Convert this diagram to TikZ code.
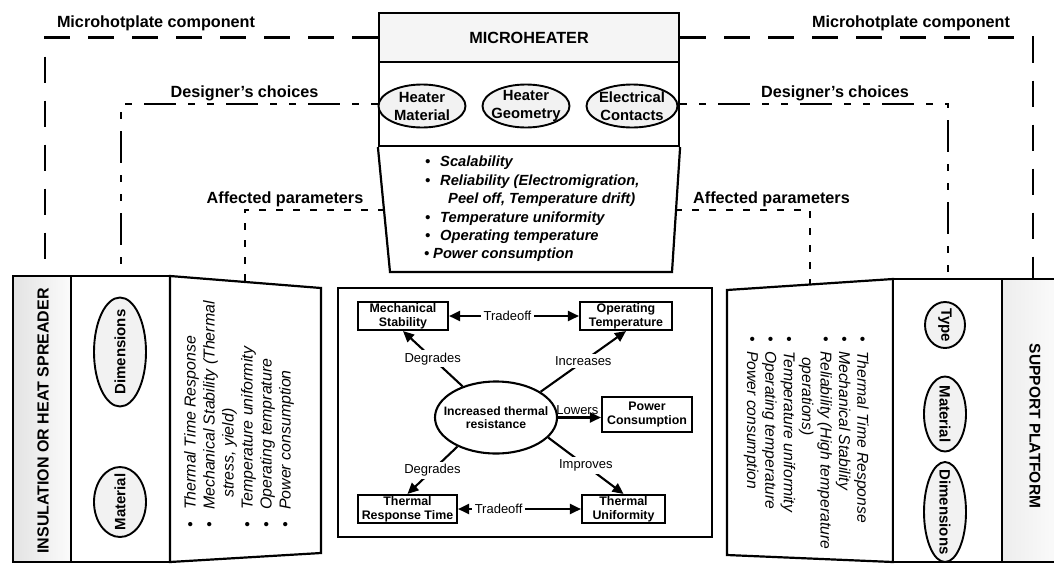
\documentclass[tikz,border=0pt]{standalone}
\usepackage{fontspec}
\setmainfont{Liberation Sans}
\usetikzlibrary{arrows.meta,shapes.geometric,calc}
\newcommand{\bu}[1]{\makebox[#1][l]{\textbullet}}
\begin{document}
\begin{tikzpicture}[x=1pt,y=-1pt,
  every node/.style={inner sep=0pt},
  frame/.style={draw, line width=2.2pt},
  oval/.style={ellipse, draw, line width=1.9pt, fill=gray!10, inner sep=0pt},
  otext/.style={align=center, font=\fontsize{14.8}{18}\selectfont\bfseries},
  ptext/.style={font=\fontsize{15}{18}\selectfont\bfseries},
  mhdash/.style={line width=2.2pt, dash pattern=on 26pt off 18pt},
  dcdash/.style={line width=2.2pt, dash pattern=on 7pt off 12pt on 7pt off 12pt on 32pt off 12pt},
  apdash/.style={line width=2.2pt, dash pattern=on 7pt off 10pt},
  lbl/.style={font=\fontsize{16.2}{18}\selectfont\bfseries},
  cbox/.style={draw, line width=2.1pt, align=center, font=\fontsize{12.4}{14}\selectfont\bfseries},
  arr/.style={line width=2.1pt, -{Triangle[length=11pt,width=10pt]}},
  darr/.style={line width=2.1pt, {Triangle[length=11pt,width=10pt]}-{Triangle[length=11pt,width=10pt]}},
  alab/.style={font=\fontsize{13}{14}\selectfont, fill=white, inner sep=2.5pt},
]
\useasboundingbox (0,0) rectangle (1054,563);

% ---------- top: microheater ----------
\node[frame, fill=gray!8, minimum width=300pt, minimum height=49pt, font=\fontsize{16.2}{18}\selectfont\bfseries] (mhhead) at (529,37.5) {MICROHEATER};
\node[frame, fill=white, minimum width=300pt, minimum height=84pt] (mhmid) at (529,104) {};
\coordinate (tzbl) at (390,272);
\coordinate (tzbr) at (672,272);
\draw[frame, fill=white] (mhmid.south west) -- (tzbl) -- (tzbr) -- (mhmid.south east);
\node[oval, minimum width=87pt, minimum height=43pt] (hm) at (422,106) {};
\node[otext] (hmT) at (hm) {Heater\\Material};
\node[oval, minimum width=87pt, minimum height=43pt] (hg) at (526,106) {};
\node[otext] (hgT) at (hg) {Heater\\Geometry};
\node[oval, minimum width=91pt, minimum height=43pt] (ec) at (632,106) {};
\node[otext] (ecT) at (ec) {Electrical\\Contacts};
\node[anchor=north west, align=left, font=\fontsize{14.7}{18.4}\selectfont\bfseries\itshape] (mhlist) at (425,156) {%
\bu{15pt}Scalability\\
\bu{15pt}Reliability (Electromigration,\\
\hspace*{23pt}Peel off, Temperature drift)\\
\bu{15pt}Temperature uniformity\\
\bu{15pt}Operating temperature\\
\hspace*{-1pt}\bu{9pt}Power consumption};

% ---------- left panels ----------
\node[frame, left color=gray!22, right color=gray!3, minimum width=58pt, minimum height=286pt] (ins) at (42,419) {};
\node[rotate=90, font=\fontsize{16}{18}\selectfont\bfseries] (insT) at (43,421) {INSULATION OR HEAT SPREADER};
\node[frame, fill=white, minimum width=99pt, minimum height=286pt] (insC) at (120.5,419) {};
\node[oval, minimum width=52pt, minimum height=109pt] (dimL) at (120,352) {};
\node[ptext, rotate=90] (dimLT) at (dimL) {Dimensions};
\node[oval, minimum width=52pt, minimum height=70pt] (matL) at (120,502) {};
\node[ptext, rotate=90] (matLT) at (matL) {Material};
\coordinate (ltTL) at (170,276);
\coordinate (ltTR) at (321,288);
\coordinate (ltBR) at (321,553);
\coordinate (ltBL) at (170,562);
\draw[frame, fill=white] (ltTL) -- (ltTR) -- (ltBR) -- (ltBL) -- cycle;
\node[rotate=90, anchor=north west, align=left, font=\fontsize{15.9}{19}\selectfont\itshape] (ltlist) at (184,528) {%
\bu{18pt}Thermal Time Response\\
\bu{18pt}Mechanical Stability (Thermal\\
\hspace*{30pt}stress, yield)\\
\bu{18pt}Temperature uniformity\\
\bu{18pt}Operating temprature\\
\bu{18pt}Power consumption};

% ---------- right panels ----------
\coordinate (rtTL) at (727,290);
\coordinate (rtTR) at (893,279);
\coordinate (rtBR) at (893,562);
\coordinate (rtBL) at (727,555);
\draw[frame, fill=white] (rtTL) -- (rtTR) -- (rtBR) -- (rtBL) -- cycle;
\node[rotate=-90, anchor=north west, align=left, font=\fontsize{15.7}{18.4}\selectfont\itshape] (rtlist) at (869,336) {%
\bu{15pt}Thermal Time Response\\
\bu{15pt}Mechanical Stability\\
\bu{15pt}Reliability (High temperature\\
\hspace*{21pt}operations)\\
\bu{15pt}Temperature uniformity\\
\bu{15pt}Operating temperature\\
\bu{15pt}Power consumption};
\node[frame, fill=white, minimum width=109pt, minimum height=283pt] (spC) at (947.5,420.5) {};
\node[oval, minimum width=40pt, minimum height=46pt] (typR) at (945,325) {};
\node[ptext, rotate=-90] (typRT) at (typR) {Type};
\node[oval, minimum width=42pt, minimum height=75pt] (matR) at (945,414) {};
\node[ptext, rotate=-90] (matRT) at (matR) {Material};
\node[oval, minimum width=42pt, minimum height=100pt] (dimR) at (945,512) {};
\node[ptext, rotate=-90] (dimRT) at (dimR) {Dimensions};
\node[frame, left color=gray!14, right color=gray!3, minimum width=58pt, minimum height=283pt] (sp) at (1031,420.5) {};
\node[rotate=-90, font=\fontsize{15.5}{18}\selectfont\bfseries] (spT) at (1035,426) {SUPPORT PLATFORM};

% ---------- dashed connectors ----------
\coordinate (mhL) at (45,276);
\coordinate (mhR) at (1033,279);
\coordinate (dcL) at (121,276);
\coordinate (dcR) at (948,279);
\coordinate (apL0) at (384.6,210);
\coordinate (apL) at (245,282);
\coordinate (apR0) at (675.4,210);
\coordinate (apR) at (810,284.5);
\draw[mhdash] (mhhead.west) -| (mhL);
\draw[mhdash] (mhhead.east) -| (mhR);
\draw[dcdash] (mhmid.west) -| (dcL);
\draw[dcdash] (mhmid.east) -| (dcR);
\draw[apdash] (apL0) -| (apL);
\draw[apdash] (apR0) -| (apR);
\node[lbl] (tMCL) at (156,23) {Microhotplate component};
\node[lbl] (tMCR) at (911,23) {Microhotplate component};
\node[lbl] (tDCL) at (244.5,93) {Designer's choices};
\node[lbl] (tDCR) at (835,93) {Designer's choices};
\node[lbl] (tAPL) at (285,199) {Affected parameters};
\node[lbl] (tAPR) at (771.5,199) {Affected parameters};

% ---------- centre diagram ----------
\node[frame, minimum width=374pt, minimum height=249pt] (cbx) at (525,412.5) {};
\node[cbox, minimum width=90pt, minimum height=28pt] (ms) at (403,316) {Mechanical\\Stability};
\node[cbox, minimum width=92pt, minimum height=28pt] (ot) at (626,316) {Operating\\Temperature};
\node[cbox, minimum width=90pt, minimum height=35pt] (pc) at (647,414.5) {Power\\Consumption};
\node[cbox, minimum width=99pt, minimum height=28pt] (trt) at (407.5,509) {Thermal\\Response Time};
\node[cbox, minimum width=83pt, minimum height=28pt] (tu) at (623.5,509) {Thermal\\Uniformity};
\node[ellipse, draw, line width=2.1pt, minimum width=122pt, minimum height=72pt] (itr) at (496,417.5) {};
\node[align=center, font=\fontsize{12.2}{13.5}\selectfont\bfseries] (itrT) at (itr) {Increased thermal\\resistance};

\draw[darr] (ms.east) -- node[alab, pos=0.45] {Tradeoff} (ot.west);
\draw[darr] (trt.east) -- node[alab, pos=0.33] {Tradeoff} (tu.west);
\draw[arr] (itr.137) -- node[alab] {Degrades} (ms.south);
\draw[arr] (itr.30) -- node[alab] {Increases} (ot.south);
\draw[arr] (itr.east) -- node[font=\fontsize{13}{14}\selectfont, above=1.5pt, pos=0.45] {Lowers} (itr.east -| pc.west);
\draw[arr] (itr.217) -- node[alab] {Degrades} (trt.north);
\draw[arr] (itr.-21) -- node[alab] {Improves} (tu.north);
\end{tikzpicture}
\end{document}
